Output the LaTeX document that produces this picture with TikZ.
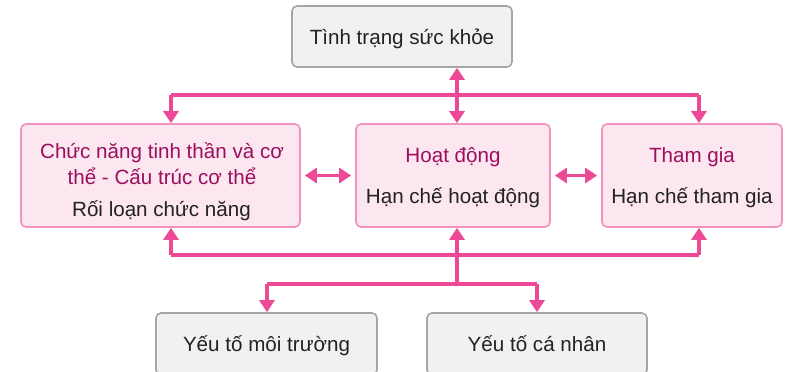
\documentclass[tikz,border=0pt]{standalone}
\usepackage{fontspec}
\setmainfont{Liberation Sans}
\usetikzlibrary{arrows.meta}
\definecolor{linepink}{HTML}{EC4A97}
\definecolor{boxpink}{HTML}{FCE6F0}
\definecolor{borderpink}{HTML}{F293BF}
\definecolor{maroon}{HTML}{9C0F5F}
\definecolor{boxgray}{HTML}{F0F1F0}
\definecolor{bordergray}{HTML}{A6A6A6}
\definecolor{darktext}{HTML}{222222}
\tikzset{
  pinkbox/.style={draw=borderpink, fill=boxpink, line width=1.6pt, rounded corners=5pt, inner sep=0pt},
  graybox/.style={draw=bordergray, fill=boxgray, line width=1.6pt, rounded corners=5pt, inner sep=0pt},
  lbl/.style={anchor=base, inner sep=0pt, font=\fontsize{20.6}{24}\selectfont, text=darktext},
  title/.style={lbl, text=maroon},
  conn/.style={draw=linepink, line width=3.6pt},
  tipone/.style={conn, -{Triangle[width=15pt,length=12pt]}},
  tiptwo/.style={conn, {Triangle[width=15pt,length=12pt]}-{Triangle[width=15pt,length=12pt]}},
}
\begin{document}
\begin{tikzpicture}[x=1pt,y=-1pt]
\useasboundingbox (0,0) rectangle (785,372);
% boxes
\node[graybox, minimum width=220pt, minimum height=61pt] (T) at (402,36.5) {};
\node[pinkbox, minimum width=279pt, minimum height=103pt] (L) at (160.5,175.5) {};
\node[pinkbox, minimum width=194pt, minimum height=103pt] (M) at (453,175.5) {};
\node[pinkbox, minimum width=180pt, minimum height=103pt] (R) at (692,175.5) {};
\node[graybox, minimum width=221pt, minimum height=62pt] (E) at (266.5,344) {};
\node[graybox, minimum width=220pt, minimum height=62pt] (P) at (537,344) {};
% texts
\node[lbl] (tT) at (402,44) {Tình trạng sức khỏe};
\node[title] (tL1) at (162,158) {Chức năng tinh thần và cơ};
\node[title] (tL2) at (162,184) {thể - Cấu trúc cơ thể};
\node[lbl] (tL3) at (161.5,216) {Rối loạn chức năng};
\node[title] (tM1) at (453,162) {Hoạt động};
\node[lbl] (tM2) at (453,203) {Hạn chế hoạt động};
\node[title] (tR1) at (692,162) {Tham gia};
\node[lbl] (tR2) at (692,203) {Hạn chế tham gia};
\node[lbl] (tE) at (266.5,351) {Yếu tố môi trường};
\node[lbl] (tP) at (537,351) {Yếu tố cá nhân};
% top connectors
\coordinate (tl) at (171,95);
\coordinate (tm) at (457,95);
\coordinate (tr) at (699,95);
\draw[conn] (tl) -- (tr);
\draw[tipone] (tl) -- (tl |- L.north);
\draw[tipone] (tr) -- (tr |- R.north);
\draw[tiptwo] (tm |- T.south) -- (tm |- M.north);
% side connectors
\draw[tiptwo, shorten <=4pt, shorten >=4pt] (L.east) -- (M.west);
\draw[tiptwo, shorten <=4pt, shorten >=4pt] (M.east) -- (R.west);
% bottom connectors
\coordinate (bl) at (171,255);
\coordinate (bm) at (457,255);
\coordinate (br) at (699,255);
\coordinate (cm) at (457,284);
\coordinate (cl) at (267,284);
\coordinate (cr) at (537,284);
\draw[conn] (bl) -- (br);
\draw[tipone] (bl) -- (bl |- L.south);
\draw[tipone] (br) -- (br |- R.south);
\draw[tipone] (bm) -- (bm |- M.south);
\draw[conn] (bm) -- (cm);
\draw[conn] (cl) -- (cr);
\draw[tipone] (cl) -- (cl |- E.north);
\draw[tipone] (cr) -- (cr |- P.north);
\end{tikzpicture}
\end{document}
